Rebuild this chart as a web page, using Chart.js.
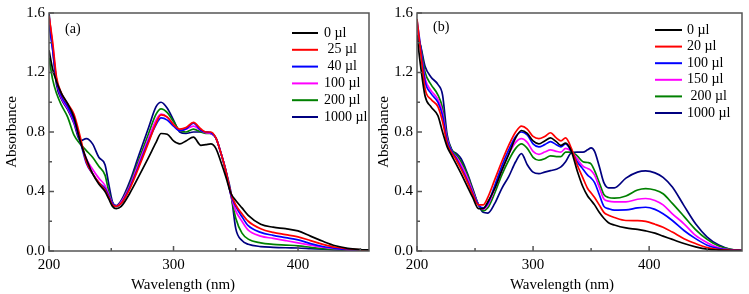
<!DOCTYPE html>
<html>
<head>
<meta charset="utf-8">
<script src="https://cdn.jsdelivr.net/npm/chart.js@4.4.1/dist/chart.umd.min.js"></script>
<style>
  html, body { margin: 0; padding: 0; background: #fff; font-family: "Liberation Serif", "Times New Roman", "DejaVu Serif", serif; }
  #wrap { position: relative; width: 749px; height: 294px; }
  .box { position: absolute; top: 0; height: 294px; }
  #boxA { left: 0; width: 375px; }
  #boxB { left: 375px; width: 374px; }
  #probe { position: absolute; left: -1000px; top: 0; font-size: 15px; }
</style>
</head>
<body>
<span id="probe">Wavelength (nm) 0.8 µl</span>
<div id="wrap">
  <div class="box" id="boxA"><canvas id="chartA" width="375" height="294"></canvas></div>
  <div class="box" id="boxB"><canvas id="chartB" width="374" height="294"></canvas></div>
</div>
<script>
// panel (a)
const wlA = [200, 203, 206, 210, 215, 220, 225, 230, 235, 240, 245, 248, 251, 254, 258, 265, 272, 280, 286, 290,
  295, 300, 305, 310, 316, 322, 326, 330, 334, 338, 342, 346, 350, 355, 360, 370, 380, 390, 400, 410,
  420, 430, 440, 450, 457];
const labelsA = ['0 µl', ' 25 µl', ' 40 µl', '100 µl', '200 µl', '1000 µl'];
const absA0 = [1.35, 1.22, 1.14, 1.06, 0.99, 0.90, 0.74, 0.62, 0.52, 0.45, 0.40, 0.35, 0.30, 0.285, 0.30, 0.39, 0.50, 0.63, 0.73, 0.79,
  0.785, 0.74, 0.72, 0.74, 0.765, 0.71, 0.715, 0.72, 0.69, 0.60, 0.50, 0.39, 0.34, 0.29, 0.24, 0.18, 0.16, 0.15, 0.135, 0.10,
  0.065, 0.035, 0.018, 0.01, 0.007];
const absA25 = [1.58, 1.40, 1.17, 1.06, 0.99, 0.92, 0.77, 0.60, 0.52, 0.46, 0.41, 0.36, 0.31, 0.30, 0.32, 0.42, 0.56, 0.73, 0.86, 0.915,
  0.90, 0.85, 0.82, 0.83, 0.865, 0.82, 0.80, 0.80, 0.76, 0.66, 0.54, 0.39, 0.31, 0.25, 0.20, 0.15, 0.125, 0.11, 0.095, 0.07,
  0.045, 0.025, 0.015, 0.008, 0.005];
const absA40 = [1.52, 1.35, 1.15, 1.04, 0.97, 0.88, 0.74, 0.59, 0.52, 0.46, 0.42, 0.37, 0.32, 0.30, 0.32, 0.43, 0.57, 0.74, 0.85, 0.895,
  0.88, 0.84, 0.81, 0.82, 0.86, 0.81, 0.80, 0.795, 0.76, 0.66, 0.54, 0.38, 0.30, 0.23, 0.17, 0.125, 0.105, 0.09, 0.075, 0.05,
  0.03, 0.018, 0.01, 0.006, 0.004];
const absA100 = [1.57, 1.38, 1.15, 1.03, 0.96, 0.87, 0.74, 0.62, 0.55, 0.49, 0.44, 0.38, 0.32, 0.30, 0.33, 0.44, 0.59, 0.76, 0.88, 0.92,
  0.90, 0.85, 0.81, 0.82, 0.84, 0.81, 0.795, 0.79, 0.76, 0.66, 0.54, 0.38, 0.27, 0.20, 0.14, 0.10, 0.085, 0.07, 0.055, 0.04,
  0.025, 0.015, 0.008, 0.005, 0.003];
const absA200 = [1.30, 1.15, 1.06, 0.98, 0.90, 0.78, 0.72, 0.675, 0.63, 0.57, 0.51, 0.40, 0.32, 0.30, 0.33, 0.45, 0.61, 0.79, 0.92, 0.955,
  0.93, 0.87, 0.81, 0.80, 0.82, 0.80, 0.79, 0.79, 0.76, 0.66, 0.54, 0.38, 0.22, 0.12, 0.08, 0.055, 0.045, 0.04, 0.035, 0.025,
  0.015, 0.01, 0.006, 0.004, 0.003];
const absA1000 = [1.60, 1.35, 1.12, 1.02, 0.95, 0.86, 0.74, 0.755, 0.72, 0.63, 0.58, 0.45, 0.33, 0.305, 0.34, 0.47, 0.64, 0.83, 0.97, 1.00,
  0.96, 0.88, 0.80, 0.79, 0.80, 0.80, 0.80, 0.79, 0.76, 0.66, 0.54, 0.40, 0.15, 0.07, 0.045, 0.03, 0.025, 0.022, 0.02, 0.016,
  0.012, 0.008, 0.005, 0.003, 0.002];

// panel (b)
const wlB = [200, 203, 207, 212, 218, 222, 226, 230, 234, 238, 243, 248, 253, 257, 261, 267, 273, 279, 285, 290,
  295, 300, 305, 310, 315, 320, 324, 328, 333, 338, 343, 347, 350, 353, 357, 361, 365, 370, 380, 390,
  397, 405, 412, 420, 430, 440, 450, 460, 470, 480];
const labelsB = ['0 µl', '20 µl', '100 µl', '150 µl', ' 200 µl', '1000 µl'];
const absB0 = [1.45, 1.25, 1.04, 0.97, 0.91, 0.80, 0.70, 0.64, 0.58, 0.52, 0.44, 0.36, 0.285, 0.285, 0.33, 0.42, 0.54, 0.65, 0.76, 0.81,
  0.79, 0.74, 0.72, 0.74, 0.76, 0.735, 0.71, 0.725, 0.67, 0.54, 0.43, 0.37, 0.34, 0.31, 0.26, 0.22, 0.19, 0.175, 0.155, 0.145,
  0.135, 0.12, 0.10, 0.078, 0.05, 0.028, 0.012, 0.006, 0.003, 0.002];
const absB20 = [1.56, 1.35, 1.09, 1.02, 0.97, 0.87, 0.72, 0.66, 0.61, 0.55, 0.47, 0.38, 0.31, 0.31, 0.36, 0.48, 0.60, 0.71, 0.80, 0.84,
  0.82, 0.77, 0.755, 0.77, 0.795, 0.76, 0.74, 0.76, 0.69, 0.58, 0.49, 0.42, 0.39, 0.36, 0.31, 0.26, 0.24, 0.225, 0.205, 0.204,
  0.199, 0.18, 0.16, 0.127, 0.083, 0.05, 0.023, 0.01, 0.005, 0.003];
const absB100 = [1.55, 1.38, 1.14, 1.06, 1.00, 0.91, 0.74, 0.67, 0.62, 0.56, 0.48, 0.39, 0.31, 0.29, 0.32, 0.44, 0.57, 0.68, 0.77, 0.80,
  0.78, 0.72, 0.70, 0.715, 0.735, 0.715, 0.70, 0.72, 0.67, 0.60, 0.55, 0.51, 0.49, 0.46, 0.38, 0.30, 0.285, 0.275, 0.276, 0.29,
  0.294, 0.28, 0.25, 0.205, 0.138, 0.083, 0.039, 0.016, 0.006, 0.003];
const absB150 = [1.50, 1.36, 1.16, 1.08, 1.02, 0.93, 0.75, 0.67, 0.63, 0.58, 0.50, 0.40, 0.31, 0.28, 0.31, 0.42, 0.54, 0.65, 0.73, 0.755,
  0.73, 0.67, 0.65, 0.665, 0.68, 0.67, 0.665, 0.69, 0.67, 0.62, 0.57, 0.555, 0.54, 0.51, 0.43, 0.35, 0.335, 0.33, 0.33, 0.348,
  0.353, 0.34, 0.31, 0.25, 0.183, 0.105, 0.056, 0.021, 0.007, 0.004];
const absB200 = [1.46, 1.38, 1.20, 1.12, 1.05, 0.96, 0.76, 0.68, 0.645, 0.60, 0.52, 0.41, 0.31, 0.27, 0.29, 0.39, 0.51, 0.61, 0.69, 0.72,
  0.69, 0.63, 0.61, 0.62, 0.64, 0.635, 0.635, 0.665, 0.665, 0.64, 0.60, 0.595, 0.585, 0.54, 0.46, 0.38, 0.36, 0.355, 0.37, 0.41,
  0.42, 0.41, 0.385, 0.32, 0.233, 0.144, 0.078, 0.033, 0.012, 0.005];
const absB1000 = [1.42, 1.38, 1.24, 1.17, 1.12, 1.05, 0.78, 0.68, 0.655, 0.62, 0.53, 0.42, 0.31, 0.26, 0.255, 0.32, 0.42, 0.50, 0.60, 0.655,
  0.58, 0.53, 0.52, 0.53, 0.54, 0.55, 0.565, 0.60, 0.66, 0.665, 0.665, 0.68, 0.693, 0.67, 0.57, 0.46, 0.425, 0.425, 0.49, 0.53,
  0.538, 0.525, 0.495, 0.43, 0.305, 0.183, 0.094, 0.04, 0.012, 0.005];

const xTicks = [200, 300, 400];
const yTicks = [0, 0.4, 0.8, 1.2, 1.6];
const colors = ['#000000', '#ff0000', '#0000ff', '#ff00ff', '#008000', '#000080'];

const serif = '"Liberation Serif", "Times New Roman", "DejaVu Serif", serif';
Chart.defaults.font.family = serif;
Chart.defaults.color = '#000';

function makeSets(xs, series, labels) {
    return series.map((ys, i) => ({
        label: labels[i],
        data: xs.map((x, j) => ({ x: x, y: ys[j] })),
        borderColor: colors[i],
        borderWidth: 1.7,
        pointRadius: 0,
        cubicInterpolationMode: 'monotone',
        fill: false
    }));
}

// box around the plot + inward ticks (major and minor)
const framePlugin = {
    id: 'frame',
    afterDatasetsDraw(chart) {
        const { ctx, chartArea: a, scales } = chart;
        ctx.save();
        ctx.strokeStyle = '#555';
        ctx.lineWidth = 1.5;
        ctx.strokeRect(a.left, a.top, a.right - a.left, a.bottom - a.top);
        ctx.beginPath();
        const sx = scales.x, sy = scales.y;
        const xs = (xTicks[1] - xTicks[0]) / 2;
        for (let v = xTicks[0], k = 0; v <= sx.max; v += xs, k++) {
            const px = sx.getPixelForValue(v);
            ctx.moveTo(px, a.bottom);
            ctx.lineTo(px, a.bottom - (k % 2 ? 3 : 5));
        }
        const ys = (yTicks[1] - yTicks[0]) / 2;
        for (let v = yTicks[0], k = 0; v <= sy.max + 1e-9; v += ys, k++) {
            const py = sy.getPixelForValue(v);
            ctx.moveTo(a.left, py);
            ctx.lineTo(a.left + (k % 2 ? 3 : 5), py);
        }
        ctx.stroke();
        ctx.restore();
    }
};

// legend inside the plot, panel tag and x title (which sits left of centre in the original)
const boxLegend = {
    id: 'boxLegend',
    afterDraw(chart, args, opts) {
        const ctx = chart.ctx;
        ctx.save();
        ctx.font = '14px ' + serif;
        ctx.textBaseline = 'middle';
        chart.data.datasets.forEach((ds, i) => {
            const y = opts.y + i * opts.gap;
            ctx.strokeStyle = ds.borderColor;
            ctx.lineWidth = 2;
            ctx.beginPath();
            ctx.moveTo(opts.x, y);
            ctx.lineTo(opts.x + opts.len, y);
            ctx.stroke();
            ctx.fillStyle = '#000';
            ctx.fillText(ds.label, opts.x + opts.len + opts.pad, y);
        });
        ctx.fillText(opts.tag, opts.tagX, opts.tagY);
        ctx.font = '15px ' + serif;
        ctx.textAlign = 'center';
        ctx.fillText('Wavelength (nm)', opts.titleX, 285);
        ctx.restore();
    }
};

function makeOptions(cfg) {
    return {
        responsive: false,
        animation: false,
        layout: { padding: { top: cfg.top, right: cfg.right, left: 0, bottom: 0 } },
        plugins: {
            legend: { display: false },
            tooltip: { enabled: false },
            boxLegend: cfg.legend
        },
        scales: {
            x: {
                type: 'linear',
                min: 200,
                max: cfg.xMax,
                afterBuildTicks: s => { s.ticks = xTicks.map(v => ({ value: v })); },
                afterFit: s => { s.height = 43; },
                grid: { display: false, drawTicks: false },
                border: { display: false },
                ticks: { padding: 5, font: { size: 15 } }
            },
            y: {
                min: 0,
                max: 1.6,
                afterBuildTicks: s => { s.ticks = yTicks.map(v => ({ value: v })); },
                afterFit: s => { s.width = cfg.yWidth; },
                grid: { display: false, drawTicks: false },
                border: { display: false },
                ticks: { padding: 4, font: { size: 15 }, callback: v => v.toFixed(1) },
                title: { display: true, text: 'Absorbance', font: { size: 15 }, padding: { top: cfg.titlePad, bottom: 0 } }
            }
        }
    };
}

function drawCharts() {
    new Chart(document.getElementById('chartA'), {
        type: 'line',
        data: { datasets: makeSets(wlA, [absA0, absA25, absA40, absA100, absA200, absA1000], labelsA) },
        options: makeOptions({
            top: 12, right: 6, xMax: 457, yWidth: 49, titlePad: 3,
            legend: { x: 292, y: 33, gap: 16.8, len: 26, pad: 6, tag: '(a)', tagX: 65, tagY: 29, titleX: 183 }
        }),
        plugins: [framePlugin, boxLegend]
    });

    new Chart(document.getElementById('chartB'), {
        type: 'line',
        data: { datasets: makeSets(wlB, [absB0, absB20, absB100, absB150, absB200, absB1000], labelsB) },
        options: makeOptions({
            top: 10.5, right: 7, xMax: 480, yWidth: 42, titlePad: 0,
            legend: { x: 280, y: 30, gap: 16.6, len: 27, pad: 5, tag: '(b)', tagX: 58, tagY: 27, titleX: 187 }
        }),
        plugins: [framePlugin, boxLegend]
    });
}

document.addEventListener("DOMContentLoaded", () => {
    const loads = ['15px "Liberation Serif"', '14px "Liberation Serif"'].map(f => document.fonts.load(f, 'Wavelength µl 0.8'));
    Promise.all(loads).then(drawCharts, drawCharts);
});
</script>
</body>
</html>
